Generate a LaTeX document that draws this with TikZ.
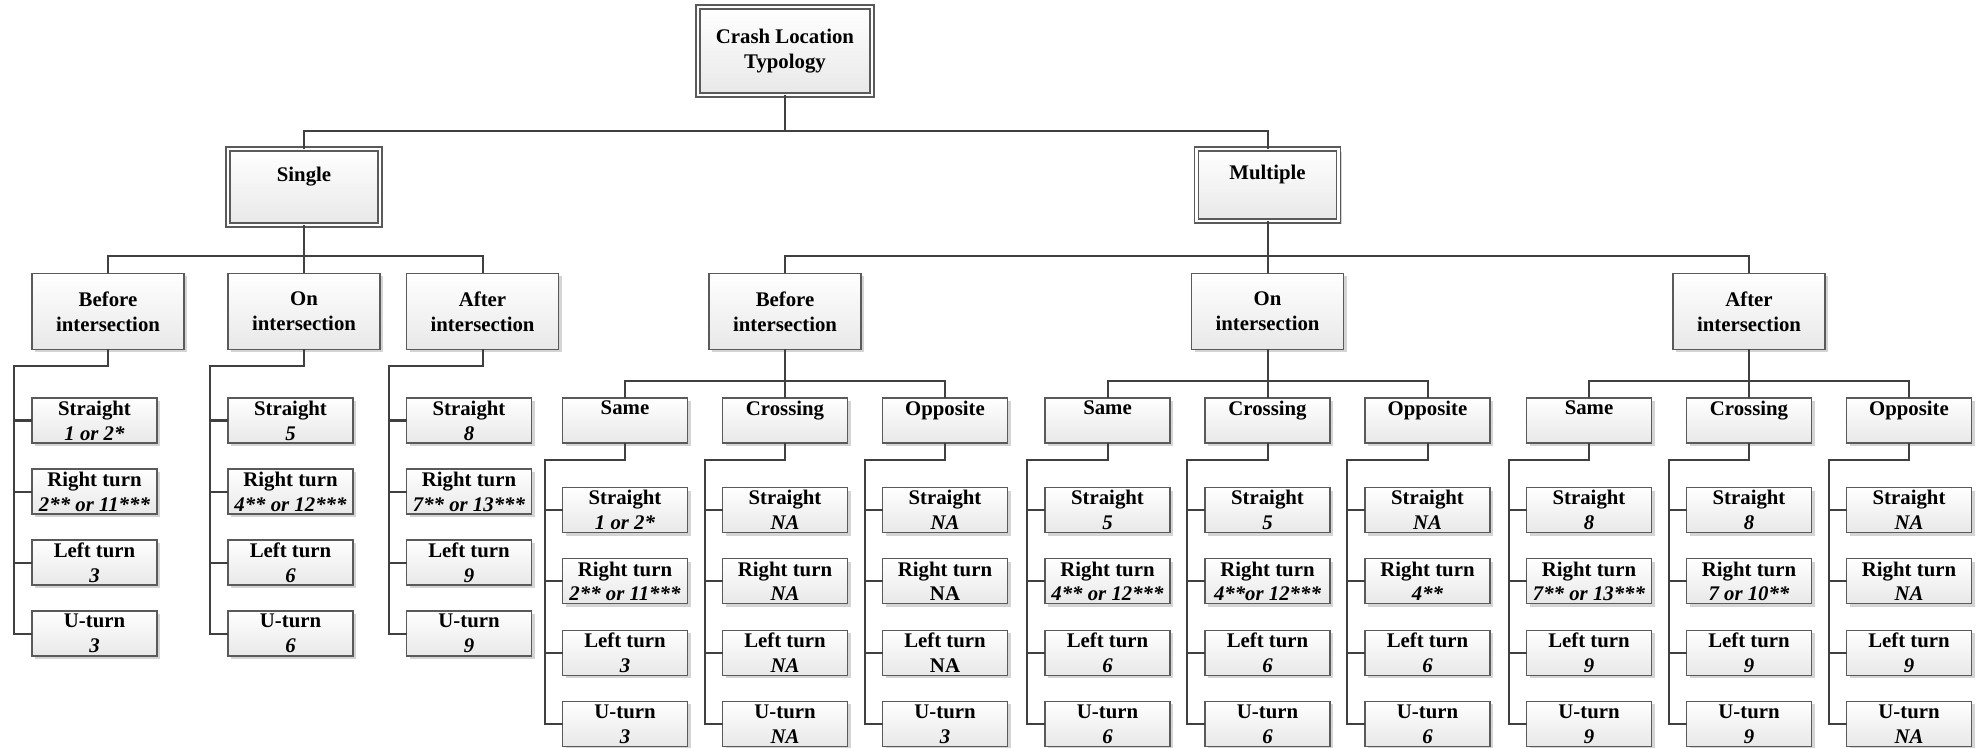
\documentclass[tikz,border=0pt]{standalone}
\usepackage{fontspec}
\setmainfont{Liberation Serif}
\usetikzlibrary{shadows}
\definecolor{bordc}{HTML}{5A5A5A}
\definecolor{connc}{HTML}{404040}
\definecolor{shadc}{HTML}{D4D4D4}
\definecolor{botc}{HTML}{E8E8E8}
\newcommand\lv[2]{#1\\\textit{#2}}
\newcommand\leafcol[7]{%
  \coordinate (#1-y1) at (0,#2);
  \coordinate (#1-y2) at (0,#2+#3);
  \coordinate (#1-y3) at (0,#2+2*#3);
  \coordinate (#1-y4) at (0,#2+3*#3);
  \node[leafbox, anchor=west] (#1-1) at (#1.west |- #1-y1) {#4};
  \node[leafbox, anchor=west] (#1-2) at (#1.west |- #1-y2) {#5};
  \node[leafbox, anchor=west] (#1-3) at (#1.west |- #1-y3) {#6};
  \node[leafbox, anchor=west] (#1-4) at (#1.west |- #1-y4) {#7};
  \draw[conn] (#1.south) -- ++(0,17) -| ([xshift=-9pt]#1-4.west) -- (#1-4.west);
  \foreach \k in {1,2,3} {\draw[conn] ([xshift=-9pt]#1-\k.west) -- (#1-\k.west);}
}
\tikzset{
  base/.style={draw=bordc, line width=0.6pt, top color=white, bottom color=botc,
    drop shadow={shadow xshift=1.5pt, shadow yshift=-1.5pt, fill=shadc, opacity=1},
    inner sep=0pt, outer sep=0pt, align=center,
    font=\bfseries\fontsize{10.4}{12.4}\selectfont},
  dbox/.style={base, double=white, double distance=1.4pt},
  midbox/.style={base, minimum width=76pt, minimum height=38pt},
  leafbox/.style={base, minimum width=62.5pt, minimum height=22.5pt},
  conn/.style={draw=connc, line width=1pt},
}
\begin{document}
\begin{tikzpicture}[x=0.5pt, y=-0.5pt]
\useasboundingbox (0,0) rectangle (1980,748);
% top levels
\node[dbox, minimum width=87pt, minimum height=44pt] (root) at (785,51) {Crash Location\\Typology};
\node[dbox, minimum width=76pt, minimum height=38pt] (sing) at (304,187) {Single\\\mbox{}};
\node[dbox, minimum width=71pt, minimum height=36pt] (mult) at (1267.5,185) {Multiple\\\mbox{}};
% level 2
\node[midbox] (sb) at (108,311.5) {Before\\intersection};
\node[midbox] (so) at (304,311.5) {On\\intersection};
\node[midbox] (sa) at (482.5,311.5) {After\\intersection};
\node[midbox] (mb) at (785,311.5) {Before\\intersection};
\node[midbox] (mo) at (1267.5,311.5) {On\\intersection};
\node[midbox] (ma) at (1749,311.5) {After\\intersection};
% level 3
\node[leafbox] (mbs) at (625,420.5) {Same\\\mbox{}};
\node[leafbox] (mbc) at (785,420.5) {Crossing\\\mbox{}};
\node[leafbox] (mbo) at (945,420.5) {Opposite\\\mbox{}};
\node[leafbox] (mos) at (1107.5,420.5) {Same\\\mbox{}};
\node[leafbox] (moc) at (1267.5,420.5) {Crossing\\\mbox{}};
\node[leafbox] (moo) at (1427.5,420.5) {Opposite\\\mbox{}};
\node[leafbox] (mas) at (1589,420.5) {Same\\\mbox{}};
\node[leafbox] (mac) at (1749,420.5) {Crossing\\\mbox{}};
\node[leafbox] (mao) at (1909,420.5) {Opposite\\\mbox{}};
% connectors upper
\coordinate (L1) at (0,131);
\coordinate (L2) at (0,256);
\coordinate (L3) at (0,381);
\draw[conn] (root.south) -- (root.south |- L1);
\draw[conn] (sing.north) |- (root.south |- L1) -| (mult.north);
\draw[conn] (sing.south) -- (so.north);
\draw[conn] (sb.north) |- (sing.south |- L2) -| (sa.north);
\draw[conn] (mult.south) -- (mo.north);
\draw[conn] (mb.north) |- (mult.south |- L2) -| (ma.north);
\draw[conn] (mb.south) -- (mbc.north);
\draw[conn] (mbs.north) |- (mb.south |- L3) -| (mbo.north);
\draw[conn] (mo.south) -- (moc.north);
\draw[conn] (mos.north) |- (mo.south |- L3) -| (moo.north);
\draw[conn] (ma.south) -- (mac.north);
\draw[conn] (mas.north) |- (ma.south |- L3) -| (mao.north);
% leaves: single
\leafcol{sb}{420.5}{71}{\lv{Straight}{1 or 2*}}{\lv{Right turn}{2** or 11***}}{\lv{Left turn}{3}}{\lv{U-turn}{3}}
\leafcol{so}{420.5}{71}{\lv{Straight}{5}}{\lv{Right turn}{4** or 12***}}{\lv{Left turn}{6}}{\lv{U-turn}{6}}
\leafcol{sa}{420.5}{71}{\lv{Straight}{8}}{\lv{Right turn}{7** or 13***}}{\lv{Left turn}{9}}{\lv{U-turn}{9}}
% leaves: multiple before
\leafcol{mbs}{510}{71.3}{\lv{Straight}{1 or 2*}}{\lv{Right turn}{2** or 11***}}{\lv{Left turn}{3}}{\lv{U-turn}{3}}
\leafcol{mbc}{510}{71.3}{\lv{Straight}{NA}}{\lv{Right turn}{NA}}{\lv{Left turn}{NA}}{\lv{U-turn}{NA}}
\leafcol{mbo}{510}{71.3}{\lv{Straight}{NA}}{Right turn\\NA}{Left turn\\NA}{\lv{U-turn}{3}}
% leaves: multiple on
\leafcol{mos}{510}{71.3}{\lv{Straight}{5}}{\lv{Right turn}{4** or 12***}}{\lv{Left turn}{6}}{\lv{U-turn}{6}}
\leafcol{moc}{510}{71.3}{\lv{Straight}{5}}{\lv{Right turn}{4**or 12***}}{\lv{Left turn}{6}}{\lv{U-turn}{6}}
\leafcol{moo}{510}{71.3}{\lv{Straight}{NA}}{\lv{Right turn}{4**}}{\lv{Left turn}{6}}{\lv{U-turn}{6}}
% leaves: multiple after
\leafcol{mas}{510}{71.3}{\lv{Straight}{8}}{\lv{Right turn}{7** or 13***}}{\lv{Left turn}{9}}{\lv{U-turn}{9}}
\leafcol{mac}{510}{71.3}{\lv{Straight}{8}}{\lv{Right turn}{7 or 10**}}{\lv{Left turn}{9}}{\lv{U-turn}{9}}
\leafcol{mao}{510}{71.3}{\lv{Straight}{NA}}{\lv{Right turn}{NA}}{\lv{Left turn}{9}}{\lv{U-turn}{NA}}
\end{tikzpicture}
\end{document}
